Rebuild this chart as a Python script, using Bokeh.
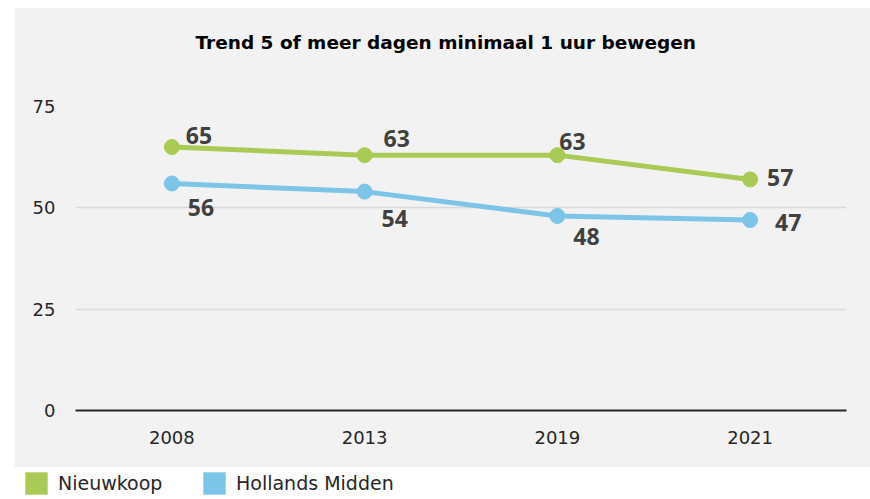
from bokeh.plotting import figure
from bokeh.models import (ColumnDataSource, Range1d, FactorRange, FixedTicker, Legend,
                          LegendItem, Spacer, Title)
from bokeh.layouts import column, row
from bokeh.core.properties import value
from bokeh.embed import file_html
from bokeh.resources import INLINE

# ---- data ----
years = ["2008", "2013", "2019", "2021"]
nieuwkoop = [65, 63, 63, 57]
hollands_midden = [56, 54, 48, 47]
series_names = ["Nieuwkoop", "Hollands Midden"]
y_ticks = [0, 25, 50, 75]
title_text = "Trend 5 of meer dagen minimaal 1 uur bewegen"

# label placement (screen px offsets, Excel-like)
nk_dx = [27, 32, 15, 30]
nk_dy = [-12, -17, -14, -2]
hm_dx = [29, 30, 29, 38]
hm_dy = [24, 27, 21, 3]

GREEN = "#A9CB55"
BLUE = "#7CC4E8"
BG = "#F2F2F2"
FONT = "DejaVu Sans"

p = figure(width=856, height=460, x_range=FactorRange(*years, range_padding=0),
           y_range=Range1d(0, 75), output_backend="svg", toolbar_location=None,
           min_border_left=61, min_border_right=24, min_border_top=99,
           min_border_bottom=57, title=None)
p.background_fill_color = BG
p.border_fill_color = BG
p.outline_line_color = None

# spacer title (closest to frame), then the real title further out
p.add_layout(Title(text=" ", text_font_size="12px", standoff=33), "above")
p.add_layout(Title(text=title_text, text_font=FONT, text_font_size="18.5px",
                   text_font_style="bold", align="left", offset=120,
                   text_color="#000000", standoff=10), "above")

p.xgrid.grid_line_color = None
p.ygrid.grid_line_color = "#D9D9D9"
p.ygrid.grid_line_width = 1.3

p.yaxis.ticker = FixedTicker(ticks=y_ticks)
p.yaxis.axis_line_color = None
p.yaxis.major_tick_line_color = None
p.yaxis.minor_tick_line_color = None
p.yaxis.major_label_standoff = 14
p.yaxis.major_label_text_font = FONT
p.yaxis.major_label_text_font_size = "18px"
p.yaxis.major_label_text_color = "#262626"

p.xaxis.axis_line_color = "#262626"
p.xaxis.axis_line_width = 2
p.xaxis.major_tick_line_color = None
p.xaxis.minor_tick_line_color = None
p.xaxis.major_label_standoff = 14
p.xaxis.major_label_text_font = FONT
p.xaxis.major_label_text_font_size = "18px"
p.xaxis.major_label_text_color = "#262626"

src_nk = ColumnDataSource(dict(x=years, y=nieuwkoop, t=[str(v) for v in nieuwkoop],
                               dx=nk_dx, dy=nk_dy))
src_hm = ColumnDataSource(dict(x=years, y=hollands_midden, t=[str(v) for v in hollands_midden],
                               dx=hm_dx, dy=hm_dy))

for src, col in ((src_hm, BLUE), (src_nk, GREEN)):
    p.line("x", "y", source=src, line_color=col, line_width=5)
    p.scatter("x", "y", source=src, size=15, fill_color=col, line_color=col)
    p.text("x", "y", text="t", source=src, x_offset="dx", y_offset="dy",
           text_align="center", text_baseline="middle",
           text_font=value("Open Sans"), text_font_style="bold",
           text_font_size="23px", text_color="#404040")

# ---- legend strip (white) ----
lg = figure(width=862, height=31, x_range=Range1d(0, 1), y_range=Range1d(0, 1),
            output_backend="svg", toolbar_location=None, min_border=0)
lg.axis.visible = False
lg.grid.visible = False
lg.outline_line_color = None
lg.background_fill_color = "white"
lg.border_fill_color = "white"

nan = float("nan")
positions = [(22, 1), (200, 1)]
for name, col, loc in zip(series_names, (GREEN, BLUE), positions):
    r = lg.quad(left=[nan], right=[nan], top=[nan], bottom=[nan],
                fill_color=col, line_color=None)
    leg = Legend(items=[LegendItem(label=name, renderers=[r])], location=loc,
                 orientation="horizontal", padding=0, margin=0,
                 border_line_color=None, background_fill_alpha=0,
                 glyph_width=28, glyph_height=28, label_standoff=8,
                 label_text_font=FONT, label_text_font_size="19px",
                 label_text_color="#262626", label_height=28)
    lg.add_layout(leg, "center")

layout = column(Spacer(height=7), row(Spacer(width=14), p), lg, spacing=0)
open("out.html", "w").write(file_html(layout, INLINE))
